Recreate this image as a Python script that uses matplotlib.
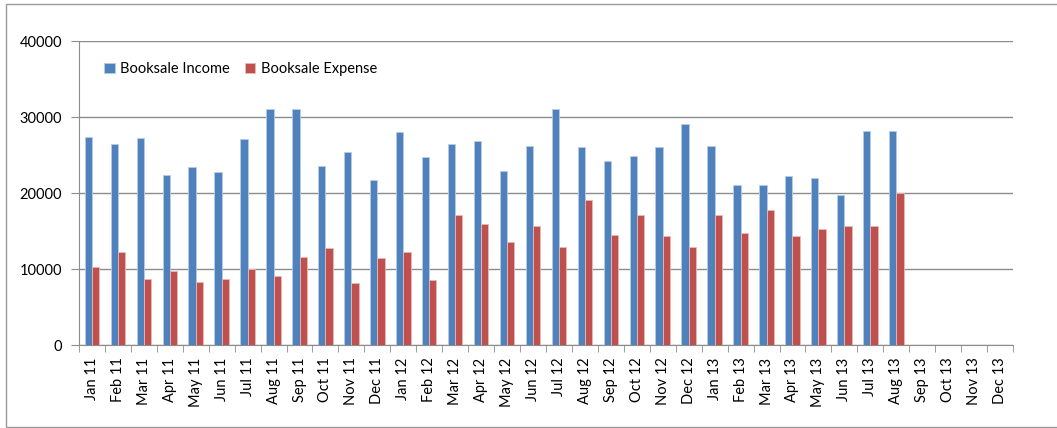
import numpy as np
import matplotlib
matplotlib.use("Agg")
import matplotlib.pyplot as plt
from matplotlib.patches import Rectangle

months = ["Jan", "Feb", "Mar", "Apr", "May", "Jun", "Jul", "Aug", "Sep", "Oct", "Nov", "Dec"]
labels = [f"{m} {y}" for y in ("11", "12", "13") for m in months]

income = [27400, 26400, 27300, 22400, 23400, 22700, 27100, 31100, 31050, 23500, 25400, 21700,
          28000, 24700, 26400, 26900, 22900, 26200, 31000, 26100, 24200, 24900, 26000, 29100,
          26200, 21000, 21100, 22300, 22000, 19800, 28200, 28100, np.nan, np.nan, np.nan, np.nan]
expense = [10300, 12300, 8700, 9700, 8300, 8700, 10000, 9100, 11600, 12700, 8200, 11400,
           12200, 8500, 17100, 15900, 13500, 15700, 12900, 19100, 14500, 17100, 14400, 12900,
           17100, 14700, 17800, 14400, 15300, 15600, 15600, 20000, np.nan, np.nan, np.nan, np.nan]

plt.rcParams['font.family'] = ['Lato', 'DejaVu Sans']

fig = plt.figure(figsize=(10.57, 4.28), dpi=100)
ax = fig.add_axes([0.0747, 0.1939, 0.8837, 0.7103])

# outer chart border
fig.patches.append(Rectangle((0.0055, 0.002), 1.2, 0.988, transform=fig.transFigure,
                             fill=False, edgecolor="#9a9a9a", linewidth=1.0))

x = np.arange(len(labels))
w = 0.28
ax.bar(x - w / 2, income, w, color="#4F81BD", edgecolor="#b8cce4", linewidth=0.6,
       label="Booksale Income", zorder=3)
ax.bar(x + w / 2, expense, w, color="#C0504D", edgecolor="#e6b9b8", linewidth=0.6,
       label="Booksale Expense", zorder=3)

ax.set_xlim(-0.5, len(labels) - 0.5)
ax.set_ylim(0, 40000)
ax.set_yticks([0, 10000, 20000, 30000, 40000])
ax.yaxis.grid(True, color="#8c8c8c", linewidth=1.0)
ax.set_axisbelow(True)

ax.set_xticks(x)
ax.set_xticklabels(labels, rotation=90, fontsize=10.5)
ax.set_xticks(np.arange(-0.5, len(labels)), minor=True)
ax.tick_params(axis="x", which="major", length=0, pad=9)
ax.tick_params(axis="x", which="minor", length=5, color="#8c8c8c")
ax.tick_params(axis="y", length=6, color="#8c8c8c", labelsize=10.5, pad=6)

for s in ("top", "right"):
    ax.spines[s].set_visible(False)
for s in ("left", "bottom"):
    ax.spines[s].set_color("#8c8c8c")

ax.legend(loc="upper left", bbox_to_anchor=(0.021, 0.95), ncol=2, frameon=False,
          handlelength=0.7, handleheight=0.7, handletextpad=0.4, columnspacing=1.0,
          fontsize=10.5, borderaxespad=0)

fig.savefig("out.png", dpi=100)
